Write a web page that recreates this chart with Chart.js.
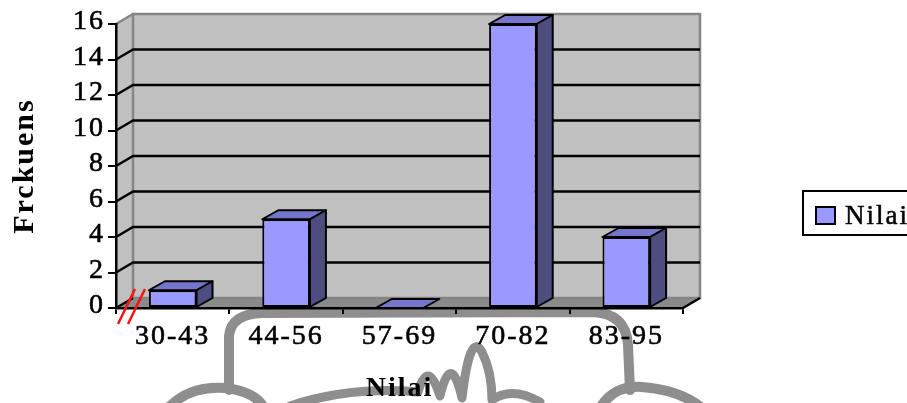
<!DOCTYPE html>
<html>
<head>
<meta charset="utf-8">
<script src="https://cdn.jsdelivr.net/npm/chart.js@4.4.1/dist/chart.umd.min.js"></script>
<style>
  html, body { margin: 0; padding: 0; background: #ffffff; }
  #c { display: block; }
</style>
</head>
<body>
<canvas id="c" width="907" height="403"></canvas>
<script>
// ---- data ----
const categories = ['30-43', '44-56', '57-69', '70-82', '83-95'];
const frequencies = [1, 5, 0, 16, 4];
const yTickValues = [0, 2, 4, 6, 8, 10, 12, 14, 16];
const seriesName = 'Nilai';
const yTitle = 'Frckuens';
const xTitle = 'Nilai';

// ---- look ----
const SERIF = '"Liberation Serif", "Times New Roman", serif';
const FRONT = '#9999FF';
const TOP = '#7575CC';
const SIDE = '#4D4D80';
const WALL = '#C0C0C0';
const WALL_EDGE = '#858585';
const FLOOR = '#8A8A8A';
const DEPTH_X = 17;
const DEPTH_Y = 10;

function poly(ctx, pts) {
  ctx.beginPath();
  ctx.moveTo(pts[0][0], pts[0][1]);
  for (let i = 1; i < pts.length; i++) ctx.lineTo(pts[i][0], pts[i][1]);
  ctx.closePath();
}

// faint ink stamp behind the chart
const stamp = {
  id: 'stamp',
  beforeDraw(chart) {
    const ctx = chart.ctx;
    ctx.save();
    ctx.strokeStyle = '#8E8E8E';
    ctx.lineCap = 'round';
    ctx.lineJoin = 'round';
    ctx.lineWidth = 10;
    // arch
    ctx.beginPath();
    ctx.moveTo(229, 390);
    ctx.lineTo(229, 336);
    ctx.quadraticCurveTo(231, 314, 262, 313);
    ctx.lineTo(592, 312);
    ctx.quadraticCurveTo(626, 313, 628, 345);
    ctx.lineTo(630, 390);
    ctx.stroke();
    // lower loops
    ctx.beginPath();
    ctx.moveTo(168, 408);
    ctx.quadraticCurveTo(190, 385, 226, 388);
    ctx.quadraticCurveTo(256, 392, 264, 408);
    ctx.stroke();
    ctx.beginPath();
    ctx.moveTo(600, 408);
    ctx.quadraticCurveTo(614, 385, 642, 387);
    ctx.quadraticCurveTo(680, 390, 702, 408);
    ctx.stroke();
    // signature
    ctx.lineWidth = 9;
    ctx.beginPath();
    ctx.moveTo(290, 406);
    ctx.quadraticCurveTo(350, 386, 418, 392);
    ctx.quadraticCurveTo(428, 358, 440, 396);
    ctx.quadraticCurveTo(451, 350, 462, 398);
    ctx.quadraticCurveTo(470, 330, 482, 352);
    ctx.quadraticCurveTo(492, 372, 492, 400);
    ctx.quadraticCurveTo(512, 386, 540, 402);
    ctx.stroke();
    ctx.restore();
  }
};

// walls, floor and wall grid lines of the 3-D plot box
const walls = {
  id: 'walls',
  beforeDraw(chart) {
    const { ctx, chartArea: a, scales: { y } } = chart;
    const dx = DEPTH_X, dy = -DEPTH_Y;
    ctx.save();
    ctx.fillStyle = FLOOR;
    poly(ctx, [[a.left, a.bottom], [a.left + dx, a.bottom + dy], [a.right + dx, a.bottom + dy], [a.right, a.bottom]]);
    ctx.fill();
    ctx.fillStyle = WALL;
    poly(ctx, [[a.left, a.top], [a.left + dx, a.top + dy], [a.left + dx, a.bottom + dy], [a.left, a.bottom]]);
    ctx.fill();
    ctx.fillRect(a.left + dx, a.top + dy, a.right - a.left, a.bottom - a.top);

    // wall outline
    ctx.strokeStyle = WALL_EDGE;
    ctx.lineWidth = 2.5;
    ctx.strokeRect(a.left + dx, a.top + dy, a.right - a.left, a.bottom - a.top);
    ctx.beginPath();
    ctx.moveTo(a.left, a.top);
    ctx.lineTo(a.left + dx, a.top + dy);
    ctx.stroke();

    // grid lines on the back and side walls
    ctx.strokeStyle = '#000';
    ctx.lineWidth = 2.5;
    y.ticks.forEach(t => {
      if (t.value === y.max) return;
      const py = y.getPixelForValue(t.value);
      ctx.beginPath();
      ctx.moveTo(a.left, py);
      ctx.lineTo(a.left + dx, py + dy);
      if (t.value !== y.min) ctx.lineTo(a.right + dx, py + dy);
      ctx.stroke();
    });
    // right edge of the floor
    ctx.beginPath();
    ctx.moveTo(a.right, a.bottom);
    ctx.lineTo(a.right + dx, a.bottom + dy);
    ctx.stroke();
    ctx.restore();
    ctx.letterSpacing = '2px';
  }
};

// top and side faces of each column
const columns3d = {
  id: 'columns3d',
  afterDatasetsDraw(chart) {
    const ctx = chart.ctx;
    const dx = DEPTH_X - 1, dy = DEPTH_Y - 1;
    chart.getDatasetMeta(0).data.forEach(bar => {
      const { x, y, base, width } = bar.getProps(['x', 'y', 'base', 'width'], true);
      const x0 = x - width / 2, x1 = x + width / 2;
      ctx.save();
      ctx.strokeStyle = '#000';
      ctx.lineWidth = 2;
      ctx.lineJoin = 'round';
      ctx.fillStyle = TOP;
      poly(ctx, [[x0, y], [x0 + dx, y - dy], [x1 + dx, y - dy], [x1, y]]);
      ctx.fill(); ctx.stroke();
      if (base - y > 0.5) {
        ctx.fillStyle = SIDE;
        poly(ctx, [[x1, y], [x1 + dx, y - dy], [x1 + dx, base - dy], [x1, base]]);
        ctx.fill(); ctx.stroke();
      }
      ctx.restore();
    });
  }
};

// boxed legend and the break marks at the origin
const extras = {
  id: 'extras',
  afterDraw(chart) {
    const { ctx, chartArea: a } = chart;
    const ds = chart.data.datasets[0];
    ctx.save();
    const lx = a.right + 120, ly = 191, lh = 44;
    ctx.fillStyle = '#fff';
    ctx.fillRect(lx, ly, 140, lh);
    ctx.strokeStyle = '#000';
    ctx.lineWidth = 2;
    ctx.strokeRect(lx, ly, 140, lh);
    ctx.fillStyle = ds.backgroundColor;
    ctx.fillRect(lx + 13, ly + 16, 19, 17);
    ctx.strokeRect(lx + 13, ly + 16, 19, 17);
    ctx.fillStyle = '#000';
    ctx.font = '27px ' + SERIF;
    ctx.letterSpacing = '2px';
    ctx.textBaseline = 'alphabetic';
    ctx.lineWidth = 0.5;
    ctx.fillText(ds.label, lx + 42, ly + 33);
    ctx.strokeText(ds.label, lx + 42, ly + 33);

    ctx.strokeStyle = '#FF1010';
    ctx.lineWidth = 2.5;
    ctx.beginPath();
    ctx.moveTo(a.left + 2, a.bottom + 16);
    ctx.lineTo(a.left + 19, a.bottom - 19);
    ctx.moveTo(a.left + 12, a.bottom + 16);
    ctx.lineTo(a.left + 29, a.bottom - 19);
    ctx.stroke();
    ctx.restore();
  }
};

new Chart(document.getElementById('c'), {
  type: 'bar',
  data: {
    labels: categories,
    datasets: [{
      label: seriesName,
      data: frequencies,
      backgroundColor: FRONT,
      borderColor: '#000',
      borderWidth: 2,
      borderSkipped: false,
      barPercentage: 1,
      categoryPercentage: 0.42
    }]
  },
  options: {
    responsive: false,
    devicePixelRatio: 1,
    animation: false,
    layout: { padding: { top: 24, right: 224, bottom: 0, left: 0 } },
    plugins: {
      legend: { display: false },
      tooltip: { enabled: false }
    },
    scales: {
      x: {
        afterFit(scale) { scale.height = 95; },
        grid: { drawOnChartArea: false, drawTicks: true, tickLength: 6, color: '#000', lineWidth: 2, offset: true },
        border: { display: true, color: '#000', width: 2.5 },
        ticks: { color: '#000', font: { family: SERIF, size: 28 }, padding: 6, autoSkip: false, maxRotation: 0, textStrokeColor: '#000', textStrokeWidth: 0.6 },
        title: { display: true, text: xTitle, color: '#000', font: { family: SERIF, size: 28, weight: 'bold', lineHeight: 1.0 }, padding: { top: 0, bottom: 0 } }
      },
      y: {
        min: 0,
        max: 16,
        afterFit(scale) { scale.width = 116; },
        afterBuildTicks(scale) { scale.ticks = yTickValues.map(v => ({ value: v })); },
        grid: { drawOnChartArea: false, drawTicks: true, tickLength: 8, color: '#000', lineWidth: 2 },
        border: { display: true, color: '#000', width: 2.5 },
        ticks: { color: '#000', font: { family: SERIF, size: 28 }, padding: 3, labelOffset: -2, autoSkip: false, textStrokeColor: '#000', textStrokeWidth: 0.6 },
        title: { display: true, text: yTitle, color: '#000', font: { family: SERIF, size: 30, weight: 'bold' }, padding: { top: 7, bottom: 0 } }
      }
    }
  },
  plugins: [stamp, walls, columns3d, extras]
});
</script>
</body>
</html>
